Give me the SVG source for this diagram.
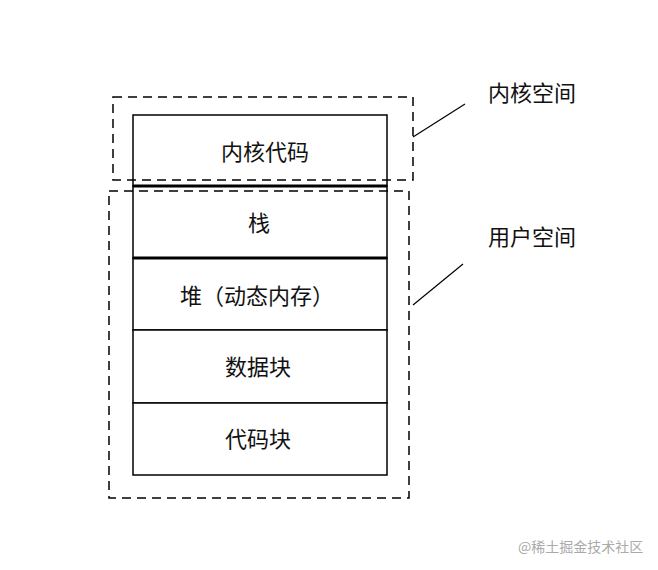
<svg xmlns="http://www.w3.org/2000/svg" width="658" height="570" viewBox="0 0 658 570">
<style>
text{font-family:"Noto Sans CJK SC","Noto Sans",sans-serif;font-size:22px;fill:#111;text-anchor:middle;dominant-baseline:central}
.cell{fill:#fff;stroke:#000;stroke-width:1.5}
.thick{stroke:#000;stroke-width:3}
.dash{fill:none;stroke:#000;stroke-width:1.5;stroke-dasharray:9 6}
.lead{stroke:#000;stroke-width:1.2}
.wm{font-size:14px;fill:#aaa;text-anchor:start}
</style>
<rect width="658" height="570" fill="#fff"/>
<g id="kernel-code"><rect class="cell" x="133" y="115" width="254" height="71"/><text x="265" y="150">内核代码</text></g>
<g id="stack"><rect class="cell" x="133" y="186" width="254" height="72"/><text x="259" y="221">栈</text></g>
<g id="heap"><rect class="cell" x="133" y="258" width="254" height="72"/><text x="257" y="294">堆（动态内存）</text></g>
<g id="data"><rect class="cell" x="133" y="330" width="254" height="73"/><text x="258" y="365">数据块</text></g>
<g id="code"><rect class="cell" x="133" y="403" width="254" height="72"/><text x="258" y="437">代码块</text></g>
<g id="dividers"><line class="thick" x1="133" y1="186" x2="387" y2="186"/><line class="thick" x1="133" y1="258" x2="387" y2="258"/></g>
<g id="kernel-space"><rect class="dash" x="113" y="97" width="300" height="83"/><text x="532" y="91">内核空间</text></g>
<g id="user-space"><rect class="dash" x="109" y="191" width="300" height="307"/><text x="532" y="235">用户空间</text></g>
<g id="connectors"><line class="lead" x1="413" y1="137" x2="465" y2="104"/><line class="lead" x1="413" y1="305" x2="463" y2="264"/></g>
<text class="wm" x="518" y="546">@稀土掘金技术社区</text>
</svg>
